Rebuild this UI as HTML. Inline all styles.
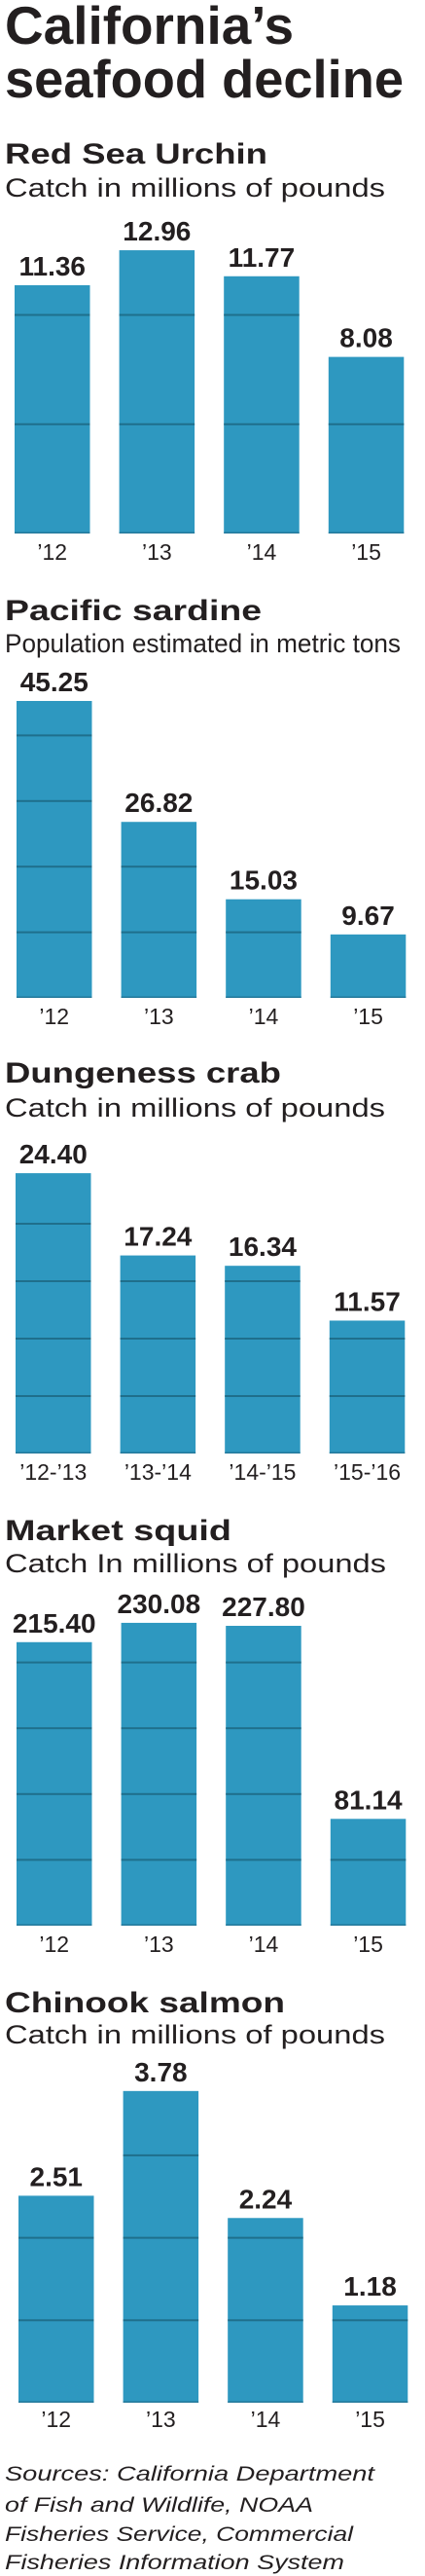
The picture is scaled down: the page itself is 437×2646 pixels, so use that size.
<!DOCTYPE html>
<html><head><meta charset="utf-8"><style>
html,body{margin:0;padding:0;background:#fff;}
svg{display:block;}
text{fill:#231f20;font-family:"Liberation Sans",sans-serif;}
.t{font-weight:bold;}
</style></head><body>
<svg id="g" width="437" height="2646" viewBox="0 0 437 2646">
<text class="t" x="5" y="45" font-size="55" textLength="297" lengthAdjust="spacingAndGlyphs">California’s</text>
<text class="t" x="5" y="100" font-size="55" textLength="410" lengthAdjust="spacingAndGlyphs">seafood decline</text>
<g font-style="italic" font-size="21">
<text x="5" y="2548" textLength="380" lengthAdjust="spacingAndGlyphs">Sources: California Department</text>
<text x="5" y="2580" textLength="317" lengthAdjust="spacingAndGlyphs">of Fish and Wildlife, NOAA</text>
<text x="5" y="2610" textLength="358" lengthAdjust="spacingAndGlyphs">Fisheries Service, Commercial</text>
<text x="5" y="2639" textLength="349" lengthAdjust="spacingAndGlyphs">Fisheries Information System</text>
</g>
</svg>
<script>
// Chart data
const urchinCats = ["’12","’13","’14","’15"];
const urchinVals = [11.36, 12.96, 11.77, 8.08];
const sardineCats = ["’12","’13","’14","’15"];
const sardineVals = [45.25, 26.82, 15.03, 9.67];
const crabCats = ["’12-’13","’13-’14","’14-’15","’15-’16"];
const crabVals = [24.40, 17.24, 16.34, 11.57];
const squidCats = ["’12","’13","’14","’15"];
const squidVals = [215.40, 230.08, 227.80, 81.14];
const salmonCats = ["’12","’13","’14","’15"];
const salmonVals = [2.51, 3.78, 2.24, 1.18];
const urchinGrid = [5, 10];
const sardineGrid = [10, 20, 30, 40];
const crabGrid = [5, 10, 15, 20];
const squidGrid = [50, 100, 150, 200];
const salmonGrid = [1, 2, 3];

const NS = "http://www.w3.org/2000/svg";
const svg = document.getElementById('g');
function mk(tag, attrs, parent){
  const e = document.createElementNS(NS, tag);
  for (const k in attrs) e.setAttribute(k, attrs[k]);
  parent.appendChild(e);
  return e;
}
const layouts = [
  {key:'red-sea-urchin', title:'Red Sea Urchin', tw:270, sub:'Catch in millions of pounds', sw:391, ty:168, sy:202, bottom:548, lab:575, x0:15, ppu:22.45, cats:urchinCats, vals:urchinVals, grid:urchinGrid},
  {key:'pacific-sardine', title:'Pacific sardine', tw:264, sub:'Population estimated in metric tons', sw:407, ty:637, sy:670, bottom:1025, lab:1052, x0:17, ppu:6.74, cats:sardineCats, vals:sardineVals, grid:sardineGrid},
  {key:'dungeness-crab', title:'Dungeness crab', tw:284, sub:'Catch in millions of pounds', sw:391, ty:1112, sy:1147, bottom:1493, lab:1520, x0:16, ppu:11.8, cats:crabCats, vals:crabVals, grid:crabGrid},
  {key:'market-squid', title:'Market squid', tw:233, sub:'Catch In millions of pounds', sw:392, ty:1582, sy:1615, bottom:1978, lab:2005, x0:17, ppu:1.352, cats:squidCats, vals:squidVals, grid:squidGrid},
  {key:'chinook-salmon', title:'Chinook salmon', tw:288, sub:'Catch in millions of pounds', sw:391, ty:2067, sy:2099, bottom:2468, lab:2493, x0:19, ppu:84.7, cats:salmonCats, vals:salmonVals, grid:salmonGrid}
];
const PITCH = 107.6, BW = 77.5;
layouts.forEach(L => {
  const grp = mk('g', {}, svg);
  
  
  const t = mk('text', {x:5, y:L.ty, 'font-size':30, 'font-weight':'bold', textLength:L.tw, lengthAdjust:'spacingAndGlyphs'}, grp);
  t.textContent = L.title;
  
  
  const s = mk('text', {x:5, y:L.sy, 'font-size':27, textLength:L.sw, lengthAdjust:'spacingAndGlyphs'}, grp);
  s.textContent = L.sub;
  
  
  const yOf = v => L.bottom - v * L.ppu;
  L.vals.forEach((v, i) => {
    const x = L.x0 + i * PITCH;
    const top = yOf(v);
    const r = mk('rect', {x:x, y:top, width:BW, height:L.bottom - top, fill:'#2e98c0'}, grp);
    
    
    L.grid.forEach(gv => {
      if (gv < v) {
        const ln = mk('rect', {x:x, y:yOf(gv) - 1, width:BW, height:2, fill:'#1f6f8c'}, grp);
        
        
      }
    });
    const base = mk('rect', {x:x, y:L.bottom - 1.5, width:BW, height:1.5, fill:'#23789a'}, grp);
    
    
    const vl = mk('text', {x:x + BW/2, y:top - 10, 'font-size':28, 'font-weight':'bold', 'text-anchor':'middle'}, grp);
    vl.textContent = v.toFixed(2);
    
    
    const cl = mk('text', {x:x + BW/2, y:L.lab, 'font-size':23, 'text-anchor':'middle'}, grp);
    cl.textContent = L.cats[i];
    
    
  });
});
</script>
</body></html>
